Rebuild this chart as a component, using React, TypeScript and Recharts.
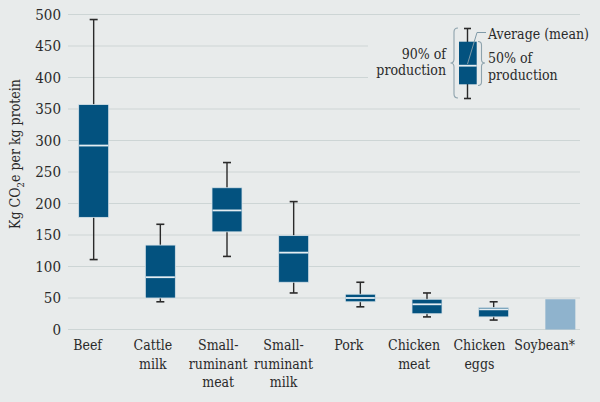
import { ComposedChart, Bar, XAxis, YAxis, CartesianGrid } from 'recharts'

const categories = ['Beef', 'Cattle milk', 'Small-ruminant meat', 'Small-ruminant milk', 'Pork', 'Chicken meat', 'Chicken eggs', 'Soybean*']
const labelLines = [['Beef'], ['Cattle', 'milk'], ['Small-', 'ruminant', 'meat'], ['Small-', 'ruminant', 'milk'], ['Pork'], ['Chicken', 'meat'], ['Chicken', 'eggs'], ['Soybean*']]

// 5th / 25th / mean / 75th / 95th percentiles, kg CO2e per kg protein
const whiskerLow = [111, 44, 116, 58, 36, 20, 15, null]
const q1 = [178, 50, 155, 75, 44, 25, 20, null]
const mean = [292, 83, 189, 122, 50, 40, 32, null]
const q3 = [357, 134, 225, 149, 56, 48, 35, null]
const whiskerHigh = [492, 167, 265, 203, 75, 58, 44, null]
const plainValue = [null, null, null, null, null, null, null, 48]

const yTicks = [0, 50, 100, 150, 200, 250, 300, 350, 400, 450, 500]
const xTicks = [0, 1, 2, 3, 4, 5, 6, 7]

const BG = '#e8ebeb'
const GRID = '#cdd5d5'
const BOX = '#03527f'
const SOY = '#8fb3cd'
const INK = '#2a2a2a'
const FONT = '"DejaVu Serif Condensed", "DejaVu Serif", serif'
const TXT = { fontFamily: FONT, fontStretch: 'condensed' as const }

const data = categories.map((name, i) => ({
  idx: i,
  name,
  low: whiskerLow[i],
  q1: q1[i],
  mean: mean[i],
  q3: q3[i],
  high: whiskerHigh[i],
  plain: plainValue[i],
}))

const rangeKey = (d: any) => (d.high != null ? [d.low, d.high] : [0, d.plain])

function BoxShape(props: any) {
  const { x, y, width, height, payload } = props
  if (payload.high == null) {
    return <rect x={x} y={y} width={width} height={height} fill={SOY} />
  }
  const k = height / (payload.high - payload.low)
  const py = (v: number) => y + (payload.high - v) * k
  const cx = x + width / 2
  const bottom = y + height
  return (
    <g>
      <line x1={cx} x2={cx} y1={y} y2={bottom} stroke={INK} strokeWidth={1.4} />
      <line x1={cx - 4} x2={cx + 4} y1={y} y2={y} stroke={INK} strokeWidth={1.6} />
      <line x1={cx - 4} x2={cx + 4} y1={bottom} y2={bottom} stroke={INK} strokeWidth={1.6} />
      <rect x={x} y={py(payload.q3)} width={width} height={py(payload.q1) - py(payload.q3)} fill={BOX} stroke="#d6e2e8" strokeWidth={0.8} />
      <line x1={x + 0.5} x2={x + width - 0.5} y1={py(payload.mean)} y2={py(payload.mean)} stroke="#e4edf2" strokeWidth={1.8} />
    </g>
  )
}

function CategoryTick(props: any) {
  const { x, y, payload } = props
  const lines = labelLines[payload.value] || []
  return (
    <text x={x} y={y} textAnchor="middle" fill={INK} fontSize={14} style={TXT}>
      {lines.map((l, j) => (
        <tspan key={j} x={x} dy={j === 0 ? 20.5 : 18.5}>{l}</tspan>
      ))}
    </text>
  )
}

function LegendOverlay() {
  return (
    <svg width={600} height={402} style={{ position: 'absolute', left: 0, top: 0, pointerEvents: 'none' }}>
      <rect x={368} y={20} width={226} height={82} fill={BG} />
      <text transform="translate(20,154) rotate(-90)" textAnchor="middle" fill={INK} fontSize={14} style={TXT}>
        Kg CO<tspan fontSize={9.5} dy={4}>2</tspan><tspan dy={-4}>e per kg protein</tspan>
      </text>
      {/* box glyph */}
      <line x1={467.5} x2={467.5} y1={28.5} y2={98.5} stroke={INK} strokeWidth={1.4} />
      <line x1={464} x2={471} y1={28.5} y2={28.5} stroke={INK} strokeWidth={1.6} />
      <line x1={464} x2={471} y1={98.5} y2={98.5} stroke={INK} strokeWidth={1.6} />
      <rect x={459} y={41.7} width={17.7} height={42.6} fill={BOX} />
      <line x1={459} x2={476.7} y1={65.7} y2={65.7} stroke="#e4edf2" strokeWidth={1.8} />
      <polyline points="467.5,64 477,32.5 486,32.5" fill="none" stroke="#7f9aa8" strokeWidth={1} />
      {/* braces */}
      <path d="M458,28 Q454,28 454,32 L454,59 Q454,63 450.5,63 Q454,63 454,67 L454,94 Q454,98 458,98" fill="none" stroke="#8ea3ad" strokeWidth={1.1} />
      <path d="M478,41.5 Q481.5,41.5 481.5,45 L481.5,59.5 Q481.5,63 485,63 Q481.5,63 481.5,66.5 L481.5,82 Q481.5,85.5 478,85.5" fill="none" stroke="#8ea3ad" strokeWidth={1.1} />
      <g fill={INK} fontSize={14} style={TXT}>
        <text x={488} y={38.5}>Average (mean)</text>
        <text x={488} y={63}>50% of</text>
        <text x={488} y={79.5}>production</text>
        <text x={446} y={58.5} textAnchor="end">90% of</text>
        <text x={446} y={75} textAnchor="end">production</text>
      </g>
    </svg>
  )
}

export default function App() {
  return (
    <div style={{ position: 'absolute', left: 0, top: 0, width: 600, height: 402, background: BG }}>
      <ComposedChart width={600} height={402} data={data} margin={{ top: 14.5, right: 20, bottom: 0, left: 0 }}>
        <CartesianGrid xAxisId="pos" vertical={false} stroke={GRID} strokeWidth={1.2} />
        <XAxis xAxisId="pos" type="number" dataKey="idx" domain={[-0.39, 7.29]} ticks={xTicks} allowDataOverflow hide />
        <XAxis
          xAxisId="lab"
          type="number"
          dataKey="idx"
          domain={[-0.3, 7.54]}
          ticks={xTicks}
          allowDataOverflow
          axisLine={false}
          tickLine={false}
          tickSize={0}
          tickMargin={0}
          height={72.5}
          interval={0}
          tick={<CategoryTick />}
        />
        <YAxis
          domain={[0, 500]}
          ticks={yTicks}
          width={68}
          axisLine={false}
          tickLine={false}
          tickSize={0}
          tickMargin={7}
          interval={0}
          tick={{ fill: INK, fontSize: 15, fontFamily: FONT, style: { fontStretch: 'condensed' } }}
        />
        <Bar xAxisId="pos" dataKey={rangeKey} barSize={30} shape={<BoxShape />} isAnimationActive={false} />
      </ComposedChart>
      <LegendOverlay />
    </div>
  )
}
